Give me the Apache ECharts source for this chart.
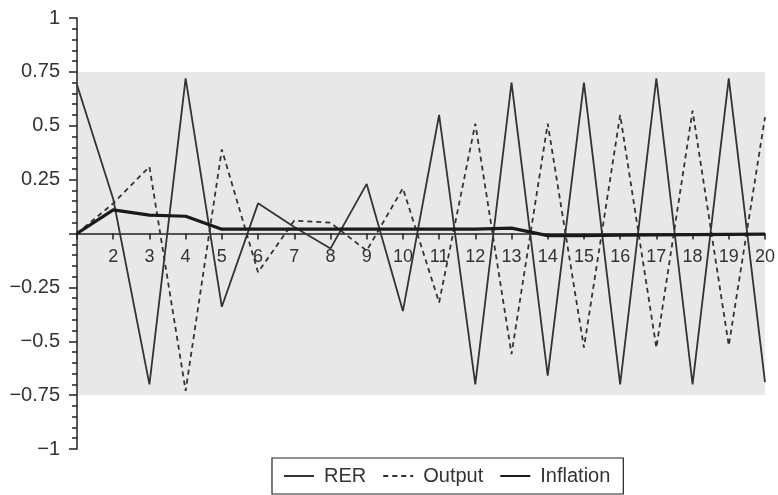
<!DOCTYPE html>
<html>
<head>
<meta charset="utf-8">
<script src="https://cdn.jsdelivr.net/npm/echarts@6/dist/echarts.min.js"></script>
<style>html,body{margin:0;padding:0;background:#fff}#c{width:778px;height:495px}</style>
</head>
<body>
<div id="c"></div>
<script>
var periods = [1,2,3,4,5,6,7,8,9,10,11,12,13,14,15,16,17,18,19,20];
var rer = [0.69,0.16,-0.70,0.72,-0.34,0.14,0.03,-0.07,0.23,-0.36,0.55,-0.70,0.70,-0.66,0.70,-0.70,0.72,-0.70,0.72,-0.69];
var output = [0,0.14,0.31,-0.73,0.39,-0.18,0.06,0.05,-0.08,0.21,-0.32,0.51,-0.56,0.51,-0.53,0.55,-0.53,0.57,-0.52,0.54];
var inflation = [0,0.11,0.085,0.08,0.02,0.02,0.02,0.02,0.02,0.02,0.02,0.02,0.025,-0.01,-0.01,-0.008,-0.006,-0.005,-0.004,-0.003];
var bandLow = -0.75, bandHigh = 0.75;
var yTicks = {"1":"1","0.75":"0.75","0.5":"0.5","0.25":"0.25","0":"","-0.25":"\u22120.25","-0.5":"\u22120.5","-0.75":"\u22120.75","-1":"\u22121"};

function pairs(arr){ return periods.map(function(p,i){ return [p, arr[i]]; }); }

var chart = echarts.init(document.getElementById('c'), null, {renderer:'canvas'});
var font = '"Liberation Sans", Arial, Helvetica, sans-serif';
var gridTop = 18, gridBottom = 46, H = 495;
var plotH = H - gridTop - gridBottom;
chart.setOption({
  animation: false,
  backgroundColor: '#fff',
  grid: {left: 77, right: 12, top: gridTop, bottom: gridBottom, containLabel: false},
  xAxis: {
    type: 'value', min: 1, max: 20, interval: 1, z: 2,
    offset: -plotH / 2,
    axisLine: {show: true, onZero: false, lineStyle: {color: '#222', width: 1.5}},
    axisTick: {show: true, length: 6, lineStyle: {color: '#222', width: 1.5}},
    axisLabel: {margin: 15, color: '#333', fontSize: 18, fontFamily: font, showMaxLabel: true,
      formatter: function(v){ return v === 1 ? '' : String(v); }},
    splitLine: {show: false}
  },
  yAxis: {
    type: 'value', min: -1, max: 1, interval: 0.25, z: 2,
    axisLine: {show: true, lineStyle: {color: '#222', width: 1.5}},
    axisTick: {show: true, length: 8, lineStyle: {color: '#222', width: 1.5}},
    minorTick: {show: true, splitNumber: 5, length: 5, lineStyle: {color: '#222', width: 1.5}},
    axisLabel: {margin: 17, color: '#333', fontSize: 20, fontFamily: font,
      formatter: function(v){ var k = String(Math.round(v*100)/100); return yTicks[k] !== undefined ? yTicks[k] : k; }},
    splitLine: {show: false}
  },
  legend: {
    left: 272, top: 458,
    data: ['RER','Output','Inflation'],
    borderColor: '#222', borderWidth: 1.2,
    padding: [8, 13, 8, 11],
    itemGap: 16, itemWidth: 30, itemHeight: 20,
    itemStyle: {opacity: 0},
    textStyle: {fontSize: 20, fontFamily: font, color: '#333', padding: [0, 0, 0, 5]}
  },
  series: [
    {name: 'band', type: 'line', data: [], z: 1, silent: true,
     markArea: {silent: true, itemStyle: {color: '#e8e8e8'},
       data: [[{xAxis: 1, yAxis: bandLow}, {xAxis: 20, yAxis: bandHigh}]]}},
    {name: 'RER', type: 'line', data: pairs(rer), symbol: 'none', z: 3,
     lineStyle: {color: '#333', width: 1.8, type: 'solid'}, itemStyle: {color: '#333'}},
    {name: 'Output', type: 'line', data: pairs(output), symbol: 'none', z: 3,
     lineStyle: {color: '#333', width: 1.8, type: [5, 4]}, itemStyle: {color: '#333'}},
    {name: 'Inflation', type: 'line', data: pairs(inflation), symbol: 'none', z: 4,
     lineStyle: {color: '#1a1a1a', width: 3.2}, itemStyle: {color: '#1a1a1a'}}
  ]
});
</script>
</body>
</html>
